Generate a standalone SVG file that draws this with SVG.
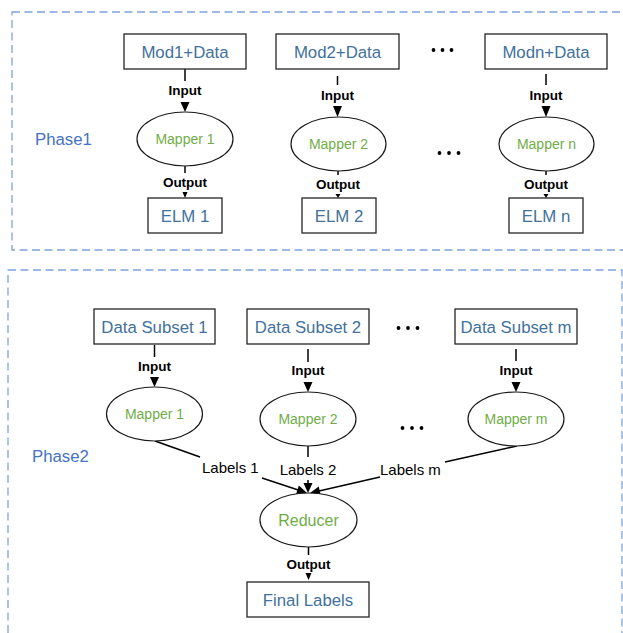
<svg xmlns="http://www.w3.org/2000/svg" width="623" height="633" viewBox="0 0 623 633">
<style>
.phase{fill:none;stroke:#7FA2DE;stroke-width:1.3;stroke-dasharray:8 4.5}
.box{fill:#fff;stroke:#262626;stroke-width:1.3}
.ell{fill:#fff;stroke:#1a1a1a;stroke-width:1.2}
.bt{font-family:"Liberation Sans",Arial,sans-serif;font-size:16.8px;fill:#41719C;text-anchor:middle}
.mt{font-family:"Liberation Sans",Arial,sans-serif;font-size:14px;fill:#70AD47;text-anchor:middle}
.rt{font-family:"Liberation Sans",Arial,sans-serif;font-size:16px;fill:#70AD47;text-anchor:middle}
.pl{font-family:"Liberation Sans",Arial,sans-serif;font-size:16.8px;fill:#4472C4}
.el{font-family:"Liberation Sans",Arial,sans-serif;font-size:13.5px;font-weight:bold;fill:#000;text-anchor:middle}
.lb{font-family:"Liberation Sans",Arial,sans-serif;font-size:15px;fill:#000}
.ln{stroke:#000;stroke-width:1.5;fill:none}
.ah{fill:#000}
.dot{fill:#000}
</style>

<rect class="phase" x="12" y="12" width="620" height="238"/>
<rect class="phase" x="8" y="270" width="614" height="380"/>
<text class="pl" x="35" y="145">Phase1</text>
<text class="pl" x="32" y="462">Phase2</text>

<g id="connectors">
  <line class="ln" x1="185" y1="69" x2="185" y2="81"/>
  <text class="el" x="185" y="95">Input</text>
  <polygon class="ah" points="180.5,102 189.5,102 185,112"/>
  <line class="ln" x1="185" y1="166" x2="185" y2="173"/>
  <text class="el" x="185" y="187">Output</text>
  <polygon class="ah" points="182.5,192 187.5,192 185,198"/>

  <line class="ln" x1="337.5" y1="76" x2="337.5" y2="85"/>
  <text class="el" x="337.5" y="100">Input</text>
  <polygon class="ah" points="333,106 342,106 337.5,117"/>
  <line class="ln" x1="338" y1="171" x2="338" y2="175"/>
  <text class="el" x="338" y="189">Output</text>
  <polygon class="ah" points="335.5,194 340.5,194 338,198"/>

  <line class="ln" x1="546" y1="74" x2="546" y2="85"/>
  <text class="el" x="546" y="100">Input</text>
  <polygon class="ah" points="541.5,106 550.5,106 546,117"/>
  <line class="ln" x1="546" y1="171" x2="546" y2="175"/>
  <text class="el" x="546" y="189">Output</text>
  <polygon class="ah" points="543.5,194 548.5,194 546,198"/>

  <line class="ln" x1="154.5" y1="345" x2="154.5" y2="357"/>
  <text class="el" x="154.5" y="371">Input</text>
  <polygon class="ah" points="150,377 159,377 154.5,387"/>

  <line class="ln" x1="308" y1="349" x2="308" y2="362"/>
  <text class="el" x="308" y="375">Input</text>
  <polygon class="ah" points="303.5,382 312.5,382 308,392"/>

  <line class="ln" x1="516" y1="349" x2="516" y2="361"/>
  <text class="el" x="516" y="375">Input</text>
  <polygon class="ah" points="511.5,382 520.5,382 516,392"/>

  <line class="ln" x1="155" y1="441" x2="200" y2="457"/>
  <text class="lb" x="202" y="473">Labels 1</text>
  <line class="ln" x1="262" y1="478" x2="299" y2="490.3"/>
  <polygon class="ah" points="296.1,494.1 298.9,485.5 307,493"/>

  <line class="ln" x1="308" y1="446" x2="308" y2="457"/>
  <text class="lb" x="308" y="475" text-anchor="middle">Labels 2</text>
  <line class="ln" x1="308" y1="480" x2="308" y2="485"/>
  <polygon class="ah" points="303.5,483 312.5,483 308,493"/>

  <line class="ln" x1="517" y1="446" x2="445" y2="462"/>
  <text class="lb" x="380" y="475">Labels m</text>
  <line class="ln" x1="380" y1="477" x2="319" y2="491"/>
  <polygon class="ah" points="320.75,495.16 318.75,486.38 310,493"/>

  <line class="ln" x1="308.5" y1="547" x2="308.5" y2="555"/>
  <text class="el" x="308.5" y="569">Output</text>
  <polygon class="ah" points="305.5,573 311.5,573 308.5,580"/>
</g>

<g id="dots">
  <circle class="dot" cx="433.5" cy="50" r="1.9"/><circle class="dot" cx="442.5" cy="50" r="1.9"/><circle class="dot" cx="451.5" cy="50" r="1.9"/>
  <circle class="dot" cx="439.5" cy="153" r="1.9"/><circle class="dot" cx="449" cy="153" r="1.9"/><circle class="dot" cx="458.5" cy="153" r="1.9"/>
  <circle class="dot" cx="398.5" cy="328" r="1.9"/><circle class="dot" cx="408" cy="328" r="1.9"/><circle class="dot" cx="417.5" cy="328" r="1.9"/>
  <circle class="dot" cx="402.5" cy="428" r="1.9"/><circle class="dot" cx="412" cy="428" r="1.9"/><circle class="dot" cx="421.5" cy="428" r="1.9"/>
</g>

<g id="mod1"><rect class="box" x="124" y="34" width="122" height="35"/><text class="bt" x="185" y="57.5">Mod1+Data</text></g>
<g id="mod2"><rect class="box" x="276" y="34" width="123" height="35"/><text class="bt" x="337.5" y="57.5">Mod2+Data</text></g>
<g id="modn"><rect class="box" x="485" y="34" width="122" height="35"/><text class="bt" x="546" y="57.5">Modn+Data</text></g>

<g id="mapper1a"><ellipse class="ell" cx="185" cy="139" rx="48" ry="27"/><text class="mt" x="185" y="144">Mapper 1</text></g>
<g id="mapper2a"><ellipse class="ell" cx="338.5" cy="144" rx="47.5" ry="27"/><text class="mt" x="338.5" y="149">Mapper 2</text></g>
<g id="mapperna"><ellipse class="ell" cx="546.5" cy="144" rx="47.5" ry="27"/><text class="mt" x="546.5" y="149">Mapper n</text></g>

<g id="elm1"><rect class="box" x="148" y="198" width="74" height="35"/><text class="bt" x="185" y="221.5">ELM 1</text></g>
<g id="elm2"><rect class="box" x="302" y="198" width="74" height="35"/><text class="bt" x="339" y="221.5">ELM 2</text></g>
<g id="elmn"><rect class="box" x="509" y="198" width="74" height="35"/><text class="bt" x="546" y="221.5">ELM n</text></g>

<g id="ds1"><rect class="box" x="94" y="309" width="121" height="35"/><text class="bt" x="154.5" y="332.5">Data Subset 1</text></g>
<g id="ds2"><rect class="box" x="247" y="309" width="122" height="35"/><text class="bt" x="308" y="332.5">Data Subset 2</text></g>
<g id="dsm"><rect class="box" x="455" y="309" width="122" height="35"/><text class="bt" x="516" y="332.5">Data Subset m</text></g>

<g id="mapper1b"><ellipse class="ell" cx="154.5" cy="414" rx="48" ry="27"/><text class="mt" x="154.5" y="419">Mapper 1</text></g>
<g id="mapper2b"><ellipse class="ell" cx="308" cy="419" rx="48" ry="27"/><text class="mt" x="308" y="424">Mapper 2</text></g>
<g id="mappermb"><ellipse class="ell" cx="516" cy="419" rx="48" ry="27"/><text class="mt" x="516" y="424">Mapper m</text></g>

<g id="reducer"><ellipse class="ell" cx="308.5" cy="520" rx="48.5" ry="27"/><text class="rt" x="308.5" y="526">Reducer</text></g>
<g id="final"><rect class="box" x="247" y="582" width="122" height="35"/><text class="bt" x="308" y="605.5">Final Labels</text></g>
</svg>
